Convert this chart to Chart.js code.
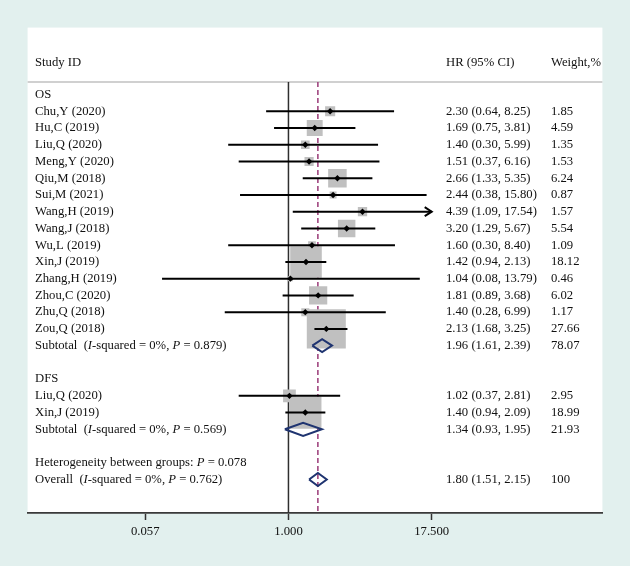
<!DOCTYPE html>
<html>
<head>
<meta charset="utf-8">
<script src="https://cdn.jsdelivr.net/npm/chart.js@4.4.1/dist/chart.umd.min.js"></script>
<style>
  html, body { margin: 0; padding: 0; background: #e2f0ee; }
  canvas { display: block; }
</style>
</head>
<body>
<canvas id="forest" width="630" height="566"></canvas>
<script>
// OS studies
const osStudies = ["Chu,Y (2020)", "Hu,C (2019)", "Liu,Q (2020)", "Meng,Y (2020)", "Qiu,M (2018)",
  "Sui,M (2021)", "Wang,H (2019)", "Wang,J (2018)", "Wu,L (2019)", "Xin,J (2019)",
  "Zhang,H (2019)", "Zhou,C (2020)", "Zhu,Q (2018)", "Zou,Q (2018)"];
const osHR = [2.30, 1.69, 1.40, 1.51, 2.66, 2.44, 4.39, 3.20, 1.60, 1.42, 1.04, 1.81, 1.40, 2.13];
const osLow = [0.64, 0.75, 0.30, 0.37, 1.33, 0.38, 1.09, 1.29, 0.30, 0.94, 0.08, 0.89, 0.28, 1.68];
const osHigh = [8.25, 3.81, 5.99, 6.16, 5.35, 15.80, 17.54, 5.67, 8.40, 2.13, 13.79, 3.68, 6.99, 3.25];
const osWeight = [1.85, 4.59, 1.35, 1.53, 6.24, 0.87, 1.57, 5.54, 1.09, 18.12, 0.46, 6.02, 1.17, 27.66];

// DFS studies
const dfsStudies = ["Liu,Q (2020)", "Xin,J (2019)"];
const dfsHR = [1.02, 1.40];
const dfsLow = [0.37, 0.94];
const dfsHigh = [2.81, 2.09];
const dfsWeight = [2.95, 18.99];

// Pooled estimates: OS subtotal, DFS subtotal, overall
const pooledLabels = ["Subtotal", "Subtotal", "Overall"];
const pooledHR = [1.96, 1.34, 1.80];
const pooledLow = [1.61, 0.93, 1.51];
const pooledHigh = [2.39, 1.95, 2.15];
const pooledWeight = [78.07, 21.93, 100];
const pooledI2 = ["0%", "0%", "0%"];
const pooledP = ["0.879", "0.569", "0.762"];
const betweenP = "0.078";

// Axis
const tickValues = [1 / 17.5, 1, 17.5];
const tickLabels = ["0.057", "1.000", "17.500"];

const ciMax = 17.5;
const serif = '"Liberation Serif", "Times New Roman", serif';
const fontSize = 12.7;

// row layout (row index on the y scale)
const osHeadRow = 0;
const osRows = osStudies.map((_, i) => i + 1);
const osSubRow = osStudies.length + 1;
const dfsHeadRow = osSubRow + 2;
const dfsRows = dfsStudies.map((_, i) => dfsHeadRow + 1 + i);
const dfsSubRow = dfsHeadRow + dfsStudies.length + 1;
const hetRow = dfsSubRow + 2;
const overallRow = hetRow + 1;
const pooledRows = [osSubRow, dfsSubRow, overallRow];
const headerRow = -1.875;
const ruleRow = -0.75;

const studies = [];
osStudies.forEach((n, i) => studies.push({ name: n, hr: osHR[i], lo: osLow[i], hi: osHigh[i], w: osWeight[i], row: osRows[i] }));
dfsStudies.forEach((n, i) => studies.push({ name: n, hr: dfsHR[i], lo: dfsLow[i], hi: dfsHigh[i], w: dfsWeight[i], row: dfsRows[i] }));

const boxSide = (w) => 7.42 * Math.sqrt(w);
const dh = 0.39; // diamond half height, in rows

const ciSets = studies.map((s) => ({
  data: [{ x: s.lo, y: s.row }, { x: Math.min(s.hi, ciMax), y: s.row }],
  showLine: true,
  borderColor: "#000",
  borderWidth: 2,
  pointRadius: 0,
  order: 3
}));

const diamondSets = pooledHR.map((hr, i) => {
  const r = pooledRows[i];
  return {
    data: [
      { x: pooledLow[i], y: r }, { x: hr, y: r - dh }, { x: pooledHigh[i], y: r },
      { x: hr, y: r + dh }, { x: pooledLow[i], y: r }
    ],
    showLine: true,
    borderColor: "#1f3470",
    borderWidth: 2,
    borderJoinStyle: "miter",
    pointRadius: 0,
    tension: 0,
    order: 2
  };
});

const background = {
  id: "background",
  beforeDraw(chart) {
    const { ctx, chartArea: a } = chart;
    ctx.save();
    ctx.fillStyle = "#e2f0ee";
    ctx.fillRect(0, 0, chart.width, chart.height);
    ctx.fillStyle = "#ffffff";
    ctx.fillRect(a.left, a.top, a.right - a.left, a.bottom - a.top);
    ctx.restore();
  },
  beforeDatasetsDraw(chart) {
    const { ctx, chartArea: a, scales } = chart;
    const y = scales.y.getPixelForValue(ruleRow);
    ctx.save();
    ctx.strokeStyle = "#d0d0d0";
    ctx.lineWidth = 2;
    ctx.beginPath();
    ctx.moveTo(a.left, y);
    ctx.lineTo(a.right, y);
    ctx.stroke();
    ctx.restore();
  }
};

function drawRich(ctx, parts, x, y) {
  let cx = x;
  parts.forEach(([t, it]) => {
    ctx.font = (it ? "italic " : "") + fontSize + "px " + serif;
    ctx.fillText(t, cx, y);
    cx += ctx.measureText(t).width;
  });
}

const fmtCI = (hr, lo, hi) => `${hr.toFixed(2)} (${lo.toFixed(2)}, ${hi.toFixed(2)})`;
const fmtW = (w) => (w === 100 ? "100" : w.toFixed(2));

const labels = {
  id: "labels",
  afterDatasetsDraw(chart) {
    const { ctx, scales } = chart;
    const ys = (r) => scales.y.getPixelForValue(r);
    const xLab = 35, xHR = 446, xW = 551;

    // arrows for clipped intervals
    ctx.save();
    ctx.strokeStyle = "#000";
    ctx.lineWidth = 2;
    studies.filter((s) => s.hi > ciMax).forEach((s) => {
      const px = scales.x.getPixelForValue(ciMax);
      const py = ys(s.row);
      ctx.beginPath();
      ctx.moveTo(px - 7, py - 4.5);
      ctx.lineTo(px, py);
      ctx.lineTo(px - 7, py + 4.5);
      ctx.stroke();
    });

    ctx.fillStyle = "#111";
    ctx.textBaseline = "middle";
    ctx.textAlign = "left";
    ctx.font = fontSize + "px " + serif;
    ctx.fillText("Study ID", xLab, ys(headerRow));
    ctx.fillText("HR (95% CI)", xHR, ys(headerRow));
    ctx.fillText("Weight,%", xW, ys(headerRow));

    ctx.fillText("OS", xLab, ys(osHeadRow));
    ctx.fillText("DFS", xLab, ys(dfsHeadRow));

    studies.forEach((s) => {
      const y = ys(s.row);
      ctx.fillText(s.name, xLab, y);
      ctx.fillText(fmtCI(s.hr, s.lo, s.hi), xHR, y);
      ctx.fillText(fmtW(s.w), xW, y);
    });

    pooledHR.forEach((hr, i) => {
      const y = ys(pooledRows[i]);
      drawRich(ctx, [
        [pooledLabels[i] + "  (", false], ["I", true], ["-squared = " + pooledI2[i] + ", ", false],
        ["P", true], [" = " + pooledP[i] + ")", false]
      ], xLab, y);
      ctx.font = fontSize + "px " + serif;
      ctx.fillText(fmtCI(hr, pooledLow[i], pooledHigh[i]), xHR, y);
      ctx.fillText(fmtW(pooledWeight[i]), xW, y);
    });

    drawRich(ctx, [["Heterogeneity between groups: ", false], ["P", true], [" = " + betweenP, false]], xLab, ys(hetRow));
    ctx.restore();
  }
};

new Chart(document.getElementById("forest"), {
  type: "scatter",
  data: {
    datasets: [
      {
        // null line
        data: [{ x: 1, y: ruleRow }, { x: 1, y: 25 }],
        showLine: true,
        borderColor: "#2e2e2e",
        borderWidth: 1.5,
        pointRadius: 0,
        order: 6
      },
      {
        // overall estimate line
        data: [{ x: pooledHR[2], y: ruleRow }, { x: pooledHR[2], y: 25 }],
        showLine: true,
        borderColor: "#a0457f",
        borderWidth: 1.6,
        borderDash: [5, 3],
        pointRadius: 0,
        order: 5
      },
      {
        // weight boxes
        data: studies.map((s) => ({ x: s.hr, y: s.row })),
        pointStyle: "rect",
        pointRadius: studies.map((s) => boxSide(s.w) / Math.SQRT2),
        backgroundColor: "#c0c0c0",
        borderWidth: 0,
        order: 4
      },
      ...ciSets,
      ...diamondSets,
      {
        // point estimates
        data: studies.map((s) => ({ x: s.hr, y: s.row })),
        pointStyle: "rectRot",
        pointRadius: 3.2,
        backgroundColor: "#000",
        borderWidth: 0,
        order: 1
      }
    ]
  },
  options: {
    responsive: false,
    animation: false,
    devicePixelRatio: 1,
    layout: { padding: { left: 26, right: 20, top: 24, bottom: 0 } },
    plugins: { legend: { display: false }, tooltip: { enabled: false } },
    events: [],
    scales: {
      x: {
        type: "logarithmic",
        min: 0.00545,
        max: 530,
        afterBuildTicks: (scale) => { scale.ticks = tickValues.map((v) => ({ value: v })); },
        afterFit: (scale) => { scale.height = 53; },
        grid: { drawOnChartArea: false, drawTicks: true, tickLength: 7, color: "#333", tickWidth: 1.5 },
        border: { display: true, color: "#3a3a3a", width: 1.8 },
        ticks: {
          color: "#111",
          padding: 4,
          maxRotation: 0,
          autoSkip: false,
          font: { family: serif, size: fontSize },
          callback: (v) => tickLabels[tickValues.findIndex((t) => Math.abs(t - v) < 1e-9)]
        }
      },
      y: {
        type: "linear",
        min: -4,
        max: 25,
        reverse: true,
        display: false
      }
    }
  },
  plugins: [background, labels]
});
</script>
</body>
</html>
